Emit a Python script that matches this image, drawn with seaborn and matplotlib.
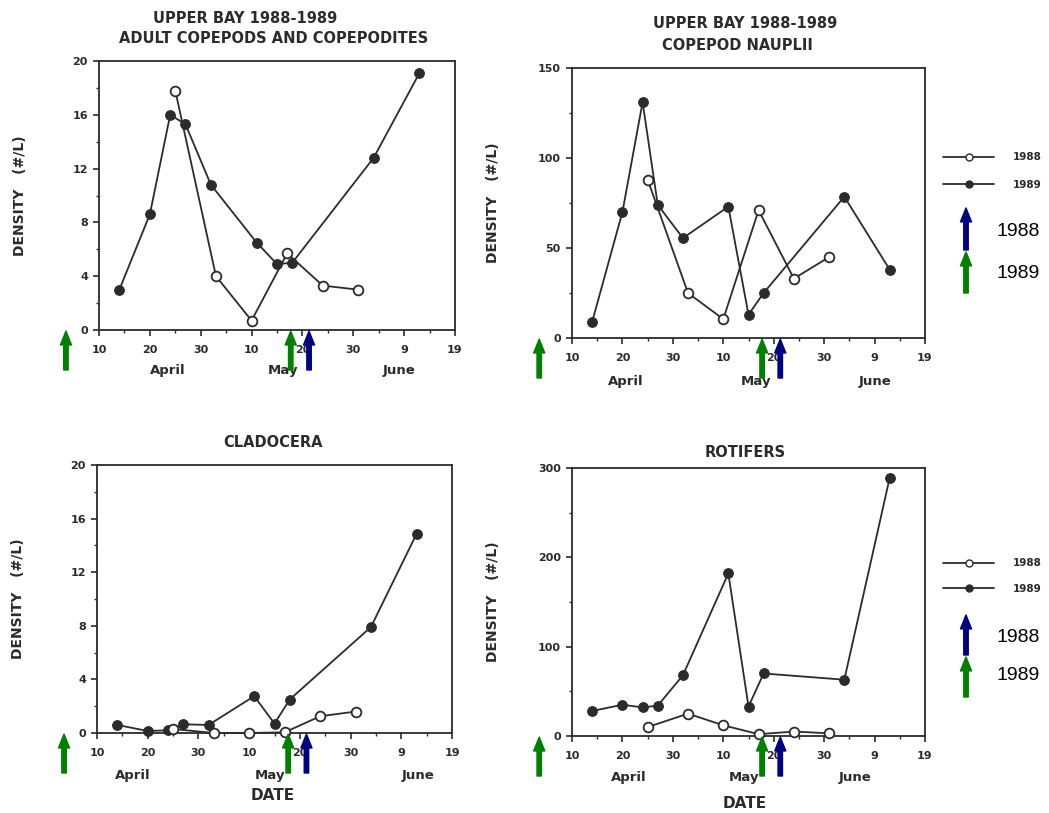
import numpy as np
import pandas as pd
import matplotlib
matplotlib.use("Agg")
import matplotlib.pyplot as plt
from matplotlib.lines import Line2D
from matplotlib.patches import FancyArrowPatch
import seaborn as sns

# ---- data (x = days after 10 April) ----
days_1988 = [15, 23, 30, 37, 44, 51]
days_1989 = [4, 10, 14, 17, 22, 31, 35, 38, 54, 63]

cop_1988 = [17.8, 4.0, 0.7, 5.7, 3.3, 3.0]
cop_1989 = [3.0, 8.6, 16.0, 15.3, 10.8, 6.5, 4.9, 5.0, 12.8, 19.1]

naup_1988 = [88, 25, 10.5, 71, 33, 45]
naup_1989 = [9, 70, 131, 74, 55.5, 73, 13, 25, 78.5, 38]

clad_1988 = [0.3, 0.0, 0.0, 0.05, 1.25, 1.6]
clad_1989 = [0.6, 0.15, 0.2, 0.65, 0.6, 2.75, 0.7, 2.5, 7.9, 14.85]

rot_1988 = [10, 25, 12, 2, 5, 3]
rot_1989 = [28, 35, 32, 34, 68, 182, 33, 70, 63, 289]

tick_days = [0, 10, 20, 30, 40, 50, 60, 70]
tick_labels = ["10", "20", "30", "10", "20", "30", "9", "19"]
months = ["April", "May", "June"]

arrow_1989_days = [-6.5, 37.7]
arrow_1988_days = [41.3]

GREEN = "#008000"
NAVY = "#000080"
INK = "#2b2b2b"
SCAN_FONT = ['DejaVu Sans']
KEY_FONT = ['Liberation Sans', 'DejaVu Sans']

sns.set_style("ticks")
plt.rcParams['font.family'] = SCAN_FONT
plt.rcParams['font.weight'] = 'bold'

W, H = 1049, 813
fig = plt.figure(figsize=(W / 100, H / 100), dpi=100)


def fx(x):
    return x / W


def fy(y):
    return 1 - y / H


ARROW = "simple,head_width=0.8,head_length=1.0,tail_width=0.32"

panels = [
    dict(box=(99, 61, 455, 330), y88=cop_1988, y89=cop_1989, ymax=20, major=4, minor=2,
         titles=[("UPPER BAY 1988-1989", 245, 18), ("ADULT COPEPODS AND COPEPODITES", 274, 38)],
         mpos=[13.6, 36.2, 59.0], month_y=370, date=None, legend=None),
    dict(box=(572, 68, 925, 338), y88=naup_1988, y89=naup_1989, ymax=150, major=50, minor=25,
         titles=[("UPPER BAY 1988-1989", 745, 23), ("COPEPOD NAUPLII", 737, 45)],
         mpos=[10.7, 36.4, 60.0], month_y=382, date=None,
         legend=dict(rows=157, gap=28, blue=(250, 208), green=(293, 252), t88=231, t89=273)),
    dict(box=(97, 465, 452, 733), y88=clad_1988, y89=clad_1989, ymax=20, major=4, minor=2,
         titles=[("CLADOCERA", 273, 442)],
         mpos=[7.0, 34.2, 63.4], month_y=775, date=(34.6, 795), legend=None),
    dict(box=(572, 468, 925, 736), y88=rot_1988, y89=rot_1989, ymax=300, major=100, minor=50,
         titles=[("ROTIFERS", 745, 452)],
         mpos=[11.2, 34.2, 56.2], month_y=778, date=(34.2, 803),
         legend=dict(rows=563, gap=26, blue=(655, 615), green=(697, 657), t88=637, t89=676)),
]

for p in panels:
    left, top, right, bottom = p['box']
    wpx, hpx = right - left, bottom - top
    ax = fig.add_axes([fx(left), fy(bottom), wpx / W, hpx / H])
    df88 = pd.DataFrame({"day": days_1988, "density": p['y88']})
    df89 = pd.DataFrame({"day": days_1989, "density": p['y89']})
    sns.lineplot(data=df89, x="day", y="density", ax=ax, color=INK, lw=1.3,
                 marker="o", ms=7, mfc=INK, mec=INK, zorder=3, clip_on=False)
    sns.lineplot(data=df88, x="day", y="density", ax=ax, color=INK, lw=1.3,
                 marker="o", ms=7, mfc="white", mec=INK, mew=1.3, zorder=4, clip_on=False)
    ax.set_xlim(0, 70)
    ax.set_ylim(0, p['ymax'])
    ax.set_xticks(tick_days)
    ax.set_xticklabels(tick_labels)
    ax.set_xticks(np.arange(0, 71, 5), minor=True)
    ax.set_yticks(np.arange(0, p['ymax'] + 1, p['major']))
    ax.set_yticks(np.arange(0, p['ymax'] + 1, p['minor']), minor=True)
    ax.tick_params(axis='both', which='major', direction='out', length=4, width=1.2,
                   labelsize=8, colors=INK, pad=4)
    ax.tick_params(axis='both', which='minor', direction='out', length=2.5, width=1.0, colors=INK)
    ax.tick_params(axis='x', which='major', pad=7)
    for lab in ax.get_xticklabels() + ax.get_yticklabels():
        lab.set_fontweight('bold')
    for s in ax.spines.values():
        s.set_linewidth(1.3)
        s.set_color(INK)
    ax.set_xlabel("")
    ax.set_ylabel("DENSITY   (#/L)", fontsize=10, fontweight='bold', color=INK)
    ax.yaxis.set_label_coords(-72 / wpx, 0.5)

    # title: last line as axes title, any earlier line as extra text
    *upper, last = p['titles']
    ax.set_title(last[0], fontsize=10.5, fontweight='bold', color=INK, pad=0,
                 x=(last[1] - left) / wpx, y=(bottom - last[2]) / hpx, va='center')
    for txt, cx, cy in upper:
        ax.text((cx - left) / wpx, (bottom - cy) / hpx, txt, transform=ax.transAxes,
                ha='center', va='center', fontsize=10.5, fontweight='bold', color=INK)

    my = -(p['month_y'] - bottom) / hpx
    for mp, mn in zip(p['mpos'], months):
        ax.text(mp, my, mn, transform=ax.get_xaxis_transform(), ha='center', va='center',
                fontsize=9.5, fontweight='bold', color=INK)
    if p['date']:
        dx, dy = p['date']
        ax.text(dx, -(dy - bottom) / hpx, "DATE", transform=ax.get_xaxis_transform(),
                ha='center', va='center', fontsize=11, fontweight='bold', color=INK)

    tail = -40 / hpx
    for days, col in [(arrow_1989_days, GREEN), (arrow_1988_days, NAVY)]:
        for d in days:
            ax.annotate("", xy=(d, -0.004), xytext=(d, tail),
                        xycoords=ax.get_xaxis_transform(), textcoords=ax.get_xaxis_transform(),
                        arrowprops=dict(arrowstyle=ARROW, color=col, shrinkA=0, shrinkB=0,
                                        mutation_scale=10),
                        annotation_clip=False, zorder=6)

    lg = p['legend']
    if lg:
        handles = [Line2D([0], [0], color=INK, lw=1.3, marker="o", ms=5, mfc="white", mec=INK),
                   Line2D([0], [0], color=INK, lw=1.3, marker="o", ms=5, mfc=INK, mec=INK)]
        fsz = 7.5
        fpx = fsz * 100 / 72
        leg = fig.legend(handles, ["1988", "1989"], loc="center left",
                         bbox_to_anchor=(fx(943), fy(lg['rows'] + lg['gap'] / 2)),
                         frameon=False, handlelength=51 / fpx, handletextpad=19 / fpx,
                         labelspacing=(lg['gap'] - fpx) / fpx, borderpad=0, borderaxespad=0,
                         prop=dict(size=fsz, weight='bold'))
        for t in leg.get_texts():
            t.set_color(INK)
        for (y0, y1), c in [(lg['blue'], NAVY), (lg['green'], GREEN)]:
            fig.add_artist(FancyArrowPatch(
                (fx(966), fy(y0)), (fx(966), fy(y1)), transform=fig.transFigure,
                arrowstyle=ARROW, mutation_scale=10, color=c, shrinkA=0, shrinkB=0))
        for ty, txt in [(lg['t88'], "1988"), (lg['t89'], "1989")]:
            fig.text(fx(997), fy(ty), txt, ha='left', va='center', fontsize=14,
                     fontweight='normal', color='black', family=KEY_FONT)

fig.savefig("out.png", dpi=100, facecolor="white")
